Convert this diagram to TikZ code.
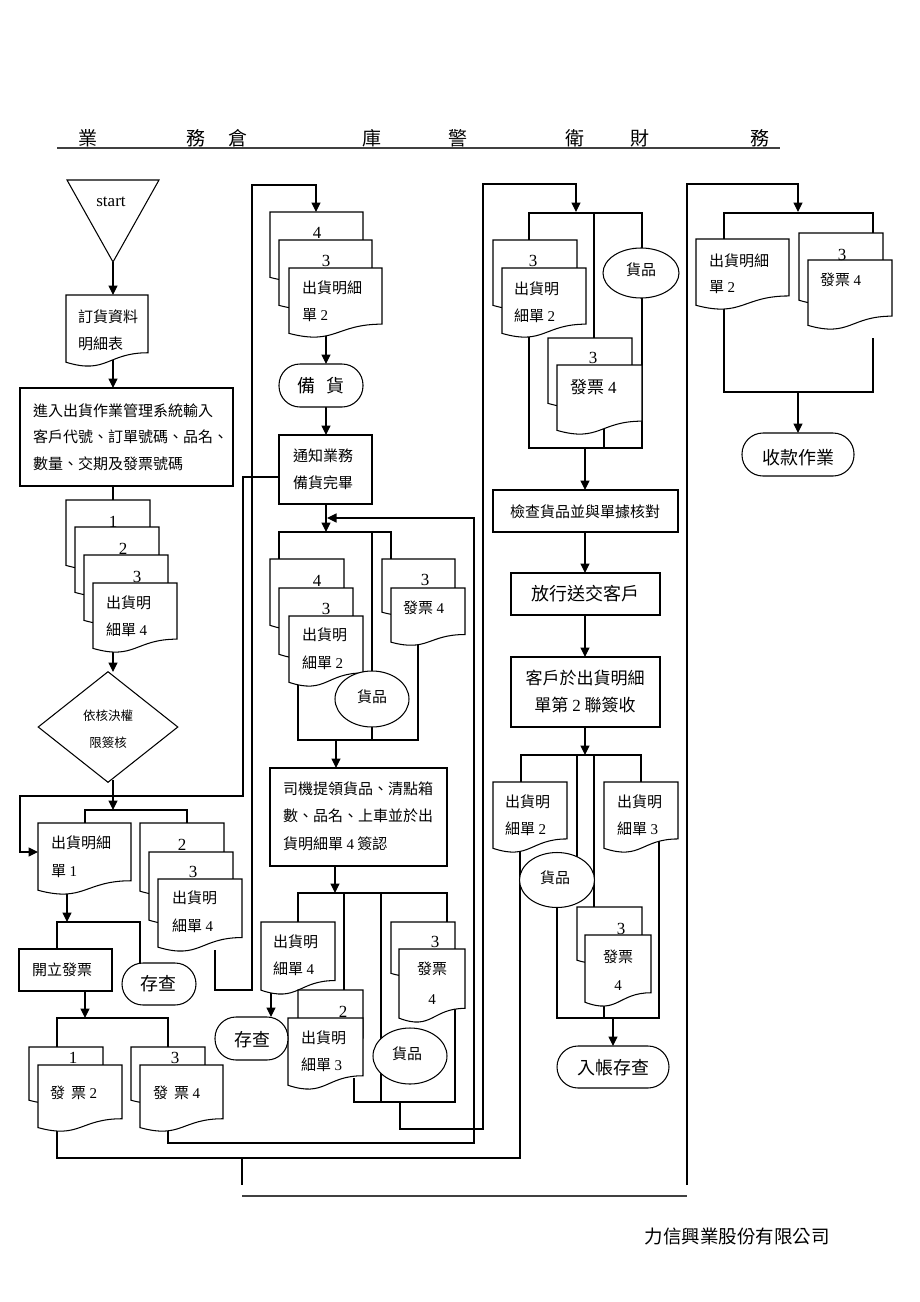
\documentclass[tikz,border=0pt]{standalone}
\usepackage{fontspec}
\setmainfont{Liberation Serif}
\newfontfamily\cjk{Noto Sans CJK TC}
\usetikzlibrary{arrows.meta,shapes.geometric}
\newcommand\dg[1]{{\rmfamily #1}}
% document shape: name, x, y(top), width, height
\newcommand\docu[5]{%
  \path[shp] (#2,#3) coordinate (#1) -- ({#2+#4},#3) -- ({#2+#4},{#3+0.802*#5})
    .. controls ({#2+0.5*#4},{#3+0.802*#5}) and ({#2+0.5*#4},{#3+1.107*#5}) .. (#2,{#3+0.934*#5}) -- cycle;}
\tikzset{
  ln/.style={line width=1.05pt},
  arr/.style={line width=1.05pt, -{Triangle[length=9.5pt,width=9pt]}},
  hl/.style={line width=1.8pt, black!75},
  shp/.style={draw, line width=1.05pt, fill=white, inner sep=0pt},
  tl/.style={font=\cjk\fontsize{15}{27}\selectfont, inner sep=0pt, anchor=west, align=left},
  tc/.style={font=\cjk\fontsize{15}{27}\selectfont, inner sep=0pt, align=center},
  tbig/.style={font=\cjk\fontsize{18}{18}\selectfont, inner sep=0pt},
  hd/.style={font=\cjk\fontsize{19}{19}\selectfont, inner sep=0pt},
  numl/.style={font=\fontsize{17}{17}\selectfont, inner sep=0pt},
}
\begin{document}
\begin{tikzpicture}[x=1pt,y=-1pt]
\useasboundingbox (0,0) rectangle (920,1302);

% ---------------- header ----------------
\node[hd] (h1) at (88,138) {業};
\node[hd] (h2) at (196,138) {務};
\node[hd] (h3) at (238,138) {倉};
\node[hd] (h4) at (372,138) {庫};
\node[hd] (h5) at (458,138) {警};
\node[hd] (h6) at (575,138) {衛};
\node[hd] (h7) at (640,138) {財};
\node[hd] (h8) at (760,138) {務};
\draw[hl] (57,148) -- (780,148);
\draw[hl] (242,1196) -- (687,1196);

% ---------------- connectors (drawn first) ----------------
% column 1
\draw[arr] (113,262) -- (113,295);
\draw[arr] (113,350) -- (113,388);
\draw[ln] (113,486) -- (113,500);
\draw[arr] (113,640) -- (113,672);
\draw[arr] (113,780) -- (113,810);
\draw[ln] (85,823) -- (85,810) -- (187,810) -- (187,823);
\draw[arr] (279,477) -- (243,477) -- (243,796) -- (20,796) -- (20,852) -- (38,852);
\draw[arr] (67,880) -- (67,922);
\draw[ln] (57,949) -- (57,922) -- (140,922) -- (140,963);
\draw[arr] (85,991) -- (85,1018);
\draw[ln] (57,1047) -- (57,1018) -- (168,1018) -- (168,1047);
\draw[arr] (215,950) -- (215,990) -- (252,990) -- (252,185) -- (316,185) -- (316,212);
\draw[ln] (57,1120) -- (57,1158) -- (520,1158) -- (520,840);
\draw[arr] (168,1120) -- (168,1143) -- (474,1143) -- (474,518) -- (327,518);
\draw[ln] (242,1158) -- (242,1185);
% column 2
\draw[arr] (326,325) -- (326,364);
\draw[arr] (326,407) -- (326,435);
\draw[arr] (326,504) -- (326,532);
\draw[ln] (279,559) -- (279,532) -- (391,532) -- (391,559);
\draw[ln] (372,532) -- (372,740);
\draw[ln] (298,670) -- (298,740) -- (418,740) -- (418,630);
\draw[arr] (336,740) -- (336,768);
\draw[arr] (335,866) -- (335,893);
\draw[ln] (298,922) -- (298,893) -- (447,893) -- (447,922);
\draw[ln] (344,893) -- (344,990);
\draw[ln] (381,893) -- (381,1102);
\draw[arr] (271,985) -- (271,1017);
\draw[ln] (354,1078) -- (354,1102) -- (455,1102) -- (455,1000);
\draw[arr] (400,1102) -- (400,1129) -- (483,1129) -- (483,184) -- (576,184) -- (576,212);
% column 3
\draw[ln] (529,240) -- (529,213) -- (642,213) -- (642,250);
\draw[ln] (594,213) -- (594,338);
\draw[ln] (529,325) -- (529,448) -- (642,448) -- (642,296);
\draw[ln] (604,420) -- (604,448);
\draw[arr] (585,448) -- (585,490);
\draw[arr] (585,532) -- (585,573);
\draw[arr] (585,615) -- (585,657);
\draw[arr] (585,727) -- (585,755);
\draw[ln] (521,782) -- (521,755) -- (641,755) -- (641,782);
\draw[ln] (577,755) -- (577,860);
\draw[ln] (594,755) -- (594,907);
\draw[ln] (557,900) -- (557,1018) -- (659,1018) -- (659,830);
\draw[ln] (604,990) -- (604,1018);
\draw[arr] (613,1018) -- (613,1046);
% column 4
\draw[arr] (687,1185) -- (687,184) -- (798,184) -- (798,212);
\draw[ln] (724,239) -- (724,213) -- (873,213) -- (873,233);
\draw[ln] (724,300) -- (724,392) -- (873,392) -- (873,338);
\draw[arr] (798,392) -- (798,433);

% ---------------- shapes ----------------
% column 1
\path[shp] (67,180) -- (159,180) -- (113,262) -- cycle;
\docu{ord}{66}{295}{82}{72}
\node[shp, minimum width=213pt, minimum height=98pt] (entry) at (126.5,437) {};
\docu{s1a}{66}{500}{84}{70}
\docu{s1b}{75}{527}{84}{70}
\docu{s1c}{84}{555}{84}{70}
\docu{s1d}{93}{583}{84}{70}
\node[shp, diamond, aspect=1.26, minimum width=140pt, minimum height=111pt] (dia) at (108,727) {};
\docu{sh1}{38}{823}{93}{72}
\docu{s2a}{140}{823}{84}{73}
\docu{s2b}{149}{852}{84}{73}
\docu{s2c}{158}{879}{84}{73}
\node[shp, minimum width=93pt, minimum height=42pt] (inv) at (65.5,970) {};
\node[shp, rounded corners=21pt, minimum width=74pt, minimum height=42pt] (arc1) at (159,984) {};
\docu{f2a}{29}{1047}{74}{57}
\docu{f2b}{38}{1065}{84}{67}
\docu{f4a}{131}{1047}{74}{57}
\docu{f4b}{140}{1065}{83}{67}
% column 2
\docu{c2a}{270}{212}{93}{70}
\docu{c2b}{279}{240}{93}{70}
\docu{c2c}{289}{268}{93}{70}
\node[shp, rounded corners=21pt, minimum width=84pt, minimum height=43pt] (prep) at (321,385.5) {};
\node[shp, minimum width=93pt, minimum height=69pt] (notify) at (325.5,469.5) {};
\docu{m2a}{270}{559}{74}{71}
\docu{m2b}{279}{588}{74}{71}
\docu{m2c}{289}{616}{74}{71}
\docu{m4a}{382}{559}{73}{57}
\docu{m4b}{391}{588}{74}{58}
\node[shp, ellipse, minimum width=74pt, minimum height=56pt] (g1) at (372,699) {};
\node[shp, minimum width=177pt, minimum height=98pt] (driver) at (358.5,817) {};
\docu{d4}{261}{922}{74}{73}
\docu{d3a}{298}{990}{65}{60}
\docu{d3b}{288}{1018}{75}{72}
\docu{l4a}{391}{922}{64}{55}
\docu{l4b}{399}{949}{66}{74}
\node[shp, rounded corners=21pt, minimum width=73pt, minimum height=43pt] (arc2) at (251.5,1038.5) {};
\node[shp, ellipse, minimum width=74pt, minimum height=56pt] (g2) at (410,1056) {};
% column 3
\docu{k2a}{493}{240}{84}{70}
\docu{k2b}{502}{268}{84}{70}
\docu{k4a}{548}{338}{84}{70}
\docu{k4b}{557}{365}{85}{70}
\node[shp, ellipse, minimum width=76pt, minimum height=50pt] (g3) at (641,273) {};
\node[shp, minimum width=185pt, minimum height=42pt] (check) at (585.5,511) {};
\node[shp, minimum width=149pt, minimum height=42pt] (release) at (585.5,594) {};
\node[shp, minimum width=149pt, minimum height=70pt] (sign) at (585.5,692) {};
\docu{q2}{493}{782}{74}{71}
\docu{q3}{604}{782}{74}{71}
\node[shp, ellipse, minimum width=75pt, minimum height=55pt] (g4) at (557,880) {};
\docu{q4a}{577}{907}{65}{57}
\docu{q4b}{585}{935}{66}{72}
\node[shp, rounded corners=21pt, minimum width=112pt, minimum height=42pt] (post) at (613,1067) {};
% column 4
\docu{r2}{696}{239}{93}{71}
\docu{r4a}{799}{233}{84}{72}
\docu{r4b}{808}{260}{84}{70}
\node[shp, rounded corners=21pt, minimum width=112pt, minimum height=43pt] (collect) at (798,454.5) {};

% ---------------- texts ----------------
% column 1
\node[font=\fontsize{17}{17}\selectfont, inner sep=0pt] (tstart) at (111,202) {start};
\node[tl] (tord) at (78,330) {訂貨資料\\明細表};
\node[tl, font=\cjk\fontsize{15}{26.5}\selectfont] (tentry) at (33,437) {進入出貨作業管理系統輸入\\客戶代號、訂單號碼、品名、\\數量、交期及發票號碼};
\node[numl] (n11) at (113,522) {1};
\node[numl] (n12) at (123,549) {2};
\node[numl] (n13) at (137,577) {3};
\node[tl] (ts1) at (106,616.5) {出貨明\\細單 \dg{4}};
\node[tc, font=\cjk\fontsize{12.5}{27}\selectfont] (tdia) at (108,729.5) {依核決權\\限簽核};
\node[tl, font=\cjk\fontsize{15}{28}\selectfont] (tsh1) at (51,857) {出貨明細\\單 \dg{1}};
\node[numl] (n22) at (182,845) {2};
\node[numl] (n23) at (193,872) {3};
\node[tl, font=\cjk\fontsize{15}{28}\selectfont] (ts2) at (172,912) {出貨明\\細單 \dg{4}};
\node[tl] (tinv) at (32,970) {開立發票};
\node[tbig] (tarc1) at (158,984) {存查};
\node[numl] (n31) at (73,1058) {1};
\node[tl] (tf2) at (50,1093) {發\hspace{6pt}票 \dg{2}};
\node[numl] (n33) at (175,1058) {3};
\node[tl] (tf4) at (153,1093) {發\hspace{6pt}票 \dg{4}};
% column 2
\node[numl] (n44) at (317,233) {4};
\node[numl] (n43) at (326,261) {3};
\node[tl] (tc2) at (302,301.5) {出貨明細\\單 \dg{2}};
\node[tbig] (tprep) at (321,386) {備\hspace{12pt}貨};
\node[tl] (tnotify) at (293,469.5) {通知業務\\備貨完畢};
\node[numl] (n54) at (317,581) {4};
\node[numl] (n53) at (326,609) {3};
\node[tl, font=\cjk\fontsize{15}{28}\selectfont] (tm2) at (302,649) {出貨明\\細單 \dg{2}};
\node[numl] (n63) at (425,580) {3};
\node[tl] (tm4) at (403,608) {發票 \dg{4}};
\node[tc] (tg1) at (372,697) {貨品};
\node[tl, font=\cjk\fontsize{15}{27.5}\selectfont] (tdriver) at (283,816) {司機提領貨品、清點箱\\數、品名、上車並於出\\貨明細單 \dg{4} 簽認};
\node[tl] (td4) at (273,955) {出貨明\\細單 \dg{4}};
\node[tbig] (tarc2) at (252,1040) {存查};
\node[numl] (n72) at (343,1012) {2};
\node[tl] (td3) at (301,1051.5) {出貨明\\細單 \dg{3}};
\node[numl] (n83) at (435,942) {3};
\node[tc, font=\cjk\fontsize{15}{30}\selectfont] (tl4) at (432,983) {發票\\\dg{4}};
\node[tc] (tg2) at (407,1054) {貨品};
% column 3
\node[numl] (n93) at (533,261) {3};
\node[tl] (tk2) at (514,302) {出貨明\\細單 \dg{2}};
\node[tc] (tg3) at (641,270) {貨品};
\node[numl] (n103) at (593,358) {3};
\node[tl, font=\cjk\fontsize{17}{17}\selectfont] (tk4) at (570,387) {發票 \dg{4}};
\node[tc] (tcheck) at (585,512) {檢查貨品並與單據核對};
\node[tbig] (trelease) at (585,594) {放行送交客戶};
\node[tc, font=\cjk\fontsize{17}{27}\selectfont] (tsign) at (585,691.5) {客戶於出貨明細\\單第 \dg{2} 聯簽收};
\node[tl] (tq2) at (505,815.5) {出貨明\\細單 \dg{2}};
\node[tl] (tq3) at (617,815.5) {出貨明\\細單 \dg{3}};
\node[tc] (tg4) at (555,878) {貨品};
\node[numl] (n113) at (621,929) {3};
\node[tc, font=\cjk\fontsize{15}{28}\selectfont] (tq4) at (618,970) {發票\\\dg{4}};
\node[tbig] (tpost) at (613,1068) {入帳存查};
% column 4
\node[tl, font=\cjk\fontsize{15}{26}\selectfont] (tr2) at (709,274) {出貨明細\\單 \dg{2}};
\node[numl] (n123) at (842,255) {3};
\node[tl] (tr4) at (820,280) {發票 \dg{4}};
\node[tbig] (tcollect) at (798,458) {收款作業};
% footer
\node[font=\cjk\fontsize{18.5}{18.5}\selectfont, inner sep=0pt] (company) at (737,1236) {力信興業股份有限公司};
\end{tikzpicture}
\end{document}
